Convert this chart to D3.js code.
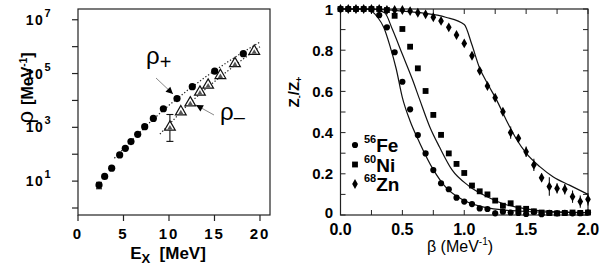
<!DOCTYPE html>
<html>
<head>
<meta charset="utf-8">
<script src="https://cdn.jsdelivr.net/npm/d3@7"></script>
<style>
  body { margin: 0; background: #fff; }
  svg { display: block; font-family: "Liberation Sans", Arial, sans-serif; }
</style>
</head>
<body>
<div id="chart"></div>
<script>
// ---------- left panel data: level density vs excitation energy ----------
const rhoPlusE   = [2.31, 2.93, 3.7, 4.58, 5.2, 5.82, 6.56, 7.33, 8.28, 9.38, 10.88, 12.56, 15.02, 18.17];
const rhoPlusVal = [7.1, 14.9, 30.2, 94, 166, 295, 550, 1060, 2140, 4900, 11700, 32400, 123000, 550000];
const rhoPlusLo  = [5.2, null, null, null, null, null, null, null, null, null, null, null, null, null];
const rhoPlusHi  = [9.0, null, null, null, null, null, null, null, null, null, null, null, null, null];

const rhoMinusE   = [10.1, 11.3, 12.34, 13.4, 14.3, 15.65, 17.25, 19.37];
const rhoMinusVal = [1020, 3800, 8130, 20400, 37200, 85100, 234000, 676000];
const rhoMinusLo  = [300, null, null, null, null, null, null, null];
const rhoMinusHi  = [3000, null, null, null, null, null, null, null];

// dotted fit lines
const fitPlusE   = [4, 6, 8, 10, 12, 14, 16, 18, 20];
const fitPlusVal = [71, 355, 1660, 6610, 23400, 74100, 214000, 589000, 1480000];
const fitMinusE   = [9, 10, 12, 14, 16, 18, 20];
const fitMinusVal = [562, 1260, 6610, 26300, 95500, 316000, 1000000];

const leftXTicks = [0, 5, 10, 15, 20];
const leftYTicks = [1, 10, 100, 1e3, 1e4, 1e5, 1e6, 1e7];
const leftYLabels = [1, 3, 5, 7]; // exponents shown

// ---------- right panel data: Z-/Z+ vs beta ----------
const beta = [0, 0.0625, 0.125, 0.1875, 0.25, 0.3125, 0.375, 0.4375, 0.5, 0.5625, 0.625, 0.6875,
  0.75, 0.8125, 0.875, 0.9375, 1, 1.0625, 1.125, 1.1875, 1.25, 1.3125, 1.375, 1.4375, 1.5,
  1.5625, 1.625, 1.6875, 1.75, 1.8125, 1.875, 1.9375, 2];
const fe = [1, 1, 1, 1, 1, 0.97, 0.911, 0.79, 0.647, 0.513, 0.388, 0.299, 0.218, 0.154, 0.125,
  0.084, 0.065, 0.053, 0.032, 0.029, 0.008, 0.016, 0.012, 0.01, 0.005, 0.015, 0.004, 0.01,
  0.008, 0.01, 0.008, 0.009, 0.012];
const ni = [1, 1, 1, 1, 1, 1, 0.995, 0.967, 0.903, 0.817, 0.712, 0.602, 0.486, 0.389, 0.299,
  0.248, 0.204, 0.143, 0.115, 0.1, 0.07, 0.045, 0.057, 0.032, 0.03, 0.018, 0.012, 0.01,
  0.008, 0.01, 0.012, 0.01, 0.012];
const zn = [1, 1, 1, 1, 1, 1, 0.995, 0.995, 0.995, 0.99, 0.982, 0.974, 0.96, 0.942, 0.911,
  0.874, 0.833, 0.773, 0.7, 0.626, 0.569, 0.501, 0.4, 0.372, 0.307, 0.243, 0.181, 0.138,
  0.129, 0.125, 0.089, 0.065, 0.076];
const znErr = [0, 0, 0, 0, 0, 0, 0, 0, 0, 0, 0, 0, 0, 0, 0, 0, 0, 0, 0, 0, 0, 0.01, 0.03,
  0.02, 0.025, 0.03, 0.02, 0.045, 0.025, 0.025, 0.03, 0.03, 0.03];

// solid model curves
const feCurveB = [0, 0.2, 0.25, 0.3, 0.35, 0.4, 0.45, 0.5, 0.56, 0.64, 0.75, 0.85, 1.0, 1.2, 1.5, 2.0];
const feCurveV = [1, 1, 0.99, 0.96, 0.91, 0.82, 0.71, 0.57, 0.46, 0.35, 0.22, 0.135, 0.07, 0.033, 0.017, 0.011];
const niCurveB = [0, 0.25, 0.3, 0.36, 0.42, 0.5, 0.58, 0.64, 0.72, 0.8, 0.9, 1.04, 1.18, 1.34, 1.5, 1.7, 2.0];
const niCurveV = [1, 1, 0.995, 0.98, 0.9, 0.78, 0.66, 0.56, 0.43, 0.33, 0.22, 0.14, 0.09, 0.05, 0.03, 0.017, 0.012];
const znCurveB = [0, 0.3, 0.5, 0.67, 0.85, 1.0, 1.06, 1.12, 1.2, 1.26, 1.34, 1.42, 1.5, 1.61, 1.72, 1.85, 2.0];
const znCurveV = [1, 0.998, 0.99, 0.98, 0.96, 0.925, 0.83, 0.72, 0.625, 0.56, 0.46, 0.37, 0.3, 0.235, 0.185, 0.145, 0.1];

const rightXTicks = [0, 0.5, 1, 1.5, 2];
const rightYTicks = [0, 0.2, 0.4, 0.6, 0.8, 1];

const W = 599, H = 277;
const svg = d3.select("#chart").append("svg").attr("width", W).attr("height", H);
svg.append("rect").attr("width", W).attr("height", H).attr("fill", "#fff");

//==============================
// LEFT PANEL
//==============================
const lx = d3.scaleLinear().domain([0, 21.1]).range([78, 270]);
const ly = d3.scaleLog().domain([Math.pow(10, -0.26), Math.pow(10, 7.4)]).range([215, 9]);
const left = svg.append("g");

left.append("rect")
  .attr("x", lx.range()[0]).attr("y", ly.range()[1])
  .attr("width", lx.range()[1] - lx.range()[0])
  .attr("height", ly.range()[0] - ly.range()[1])
  .attr("fill", "none").attr("stroke", "#222").attr("stroke-width", 1.2);

// outward ticks
leftYTicks.forEach(t => {
  left.append("line").attr("x1", lx(0) - 6).attr("x2", lx(0))
    .attr("y1", ly(t)).attr("y2", ly(t)).attr("stroke", "#222").attr("stroke-width", 1.2);
});
leftXTicks.forEach(t => {
  left.append("line").attr("x1", lx(t)).attr("x2", lx(t))
    .attr("y1", 215).attr("y2", 221).attr("stroke", "#222").attr("stroke-width", 1.2);
  left.append("text").attr("x", lx(t)).attr("y", 239)
    .attr("text-anchor", "middle").attr("font-weight", "bold").attr("font-size", 15)
    .attr("letter-spacing", 2).text(t);
});
leftYLabels.forEach(e => {
  const t = left.append("text").attr("x", 52).attr("y", ly(Math.pow(10, e)) + 5)
    .attr("text-anchor", "end").attr("font-weight", "bold").attr("font-size", 14)
    .attr("letter-spacing", 1.5);
  t.append("tspan").text("10");
  t.append("tspan").attr("dy", -8).attr("font-size", 11).text(e);
});

// dotted fits
const lline = d3.line().x(d => lx(d[0])).y(d => ly(d[1]));
left.append("path").datum(d3.zip(fitPlusE, fitPlusVal)).attr("d", lline)
  .attr("fill", "none").attr("stroke", "#222").attr("stroke-width", 1.2).attr("stroke-dasharray", "1.3,2");
left.append("path").datum(d3.zip(fitMinusE, fitMinusVal)).attr("d", lline)
  .attr("fill", "none").attr("stroke", "#222").attr("stroke-width", 1.2).attr("stroke-dasharray", "1.3,2");

// error bars
function errBar(g, x, lo, hi, cap) {
  g.append("line").attr("x1", x).attr("x2", x).attr("y1", lo).attr("y2", hi)
    .attr("stroke", "#111").attr("stroke-width", 1.1);
  g.append("line").attr("x1", x - cap).attr("x2", x + cap).attr("y1", lo).attr("y2", lo)
    .attr("stroke", "#111").attr("stroke-width", 1.1);
  g.append("line").attr("x1", x - cap).attr("x2", x + cap).attr("y1", hi).attr("y2", hi)
    .attr("stroke", "#111").attr("stroke-width", 1.1);
}
rhoPlusE.forEach((e, i) => {
  if (rhoPlusLo[i] != null) errBar(left, lx(e), ly(rhoPlusLo[i]), ly(rhoPlusHi[i]), 3);
});
rhoMinusE.forEach((e, i) => {
  if (rhoMinusLo[i] != null) errBar(left, lx(e), ly(rhoMinusLo[i]), ly(rhoMinusHi[i]), 3.5);
});

// rho+ filled circles
left.selectAll("circle.plus").data(d3.zip(rhoPlusE, rhoPlusVal)).join("circle")
  .attr("cx", d => lx(d[0])).attr("cy", d => ly(d[1])).attr("r", 3.6).attr("fill", "#000");

// rho- open triangles
const tri = d3.symbol().type(d3.symbolTriangle).size(50);
const triG = left.selectAll("g.minus").data(d3.zip(rhoMinusE, rhoMinusVal)).join("g")
  .attr("transform", d => `translate(${lx(d[0])},${ly(d[1])})`);
triG.append("path").attr("d", tri).attr("fill", "#fff").attr("stroke", "#111").attr("stroke-width", 1.2);
triG.append("path").attr("d", d3.symbol().type(d3.symbolTriangle).size(12)).attr("transform", "translate(0,1)")
  .attr("fill", "#555");

// annotations
function arrow(g, x1, y1, x2, y2) {
  g.append("line").attr("x1", x1).attr("y1", y1).attr("x2", x2).attr("y2", y2)
    .attr("stroke", "#888").attr("stroke-width", 1);
  const a = Math.atan2(y2 - y1, x2 - x1), L = 7, w = 3.5;
  const bx = x2 - L * Math.cos(a), by = y2 - L * Math.sin(a);
  g.append("path").attr("d", `M${x2},${y2}L${bx - w * Math.sin(a)},${by + w * Math.cos(a)}L${bx + w * Math.sin(a)},${by - w * Math.cos(a)}Z`)
    .attr("fill", "#000");
}
const ap = left.append("text").attr("x", 146).attr("y", 64).attr("font-size", 24);
ap.append("tspan").text("ρ");
ap.append("tspan").attr("dy", 5).attr("font-size", 20).text("+");
arrow(left, 156, 78, 173, 94);
const am = left.append("text").attr("x", 220).attr("y", 120).attr("font-size", 24);
am.append("tspan").text("ρ");
am.append("tspan").attr("dy", 4).attr("font-size", 20).text("–");
arrow(left, 214, 115, 196, 105);

// axis titles
const lyt = left.append("text").attr("transform", "translate(33,88) rotate(-90)")
  .attr("text-anchor", "middle").attr("font-size", 16).attr("font-weight", "bold");
lyt.append("tspan").attr("font-size", 22).attr("font-weight", "normal").text("ρ ");
lyt.append("tspan").text("[MeV");
lyt.append("tspan").attr("dy", -6).attr("font-size", 10).text("-1");
lyt.append("tspan").attr("dy", 6).text("]");

const lxt = left.append("text").attr("x", 168).attr("y", 259)
  .attr("text-anchor", "middle").attr("font-size", 17).attr("font-weight", "bold");
lxt.append("tspan").text("E");
lxt.append("tspan").attr("dy", 4).attr("font-size", 13).text("X");
lxt.append("tspan").attr("dy", -4).text("  [MeV]").attr("xml:space", "preserve");

//==============================
// RIGHT PANEL
//==============================
const rx = d3.scaleLinear().domain([0, 2]).range([340.5, 588]);
const ry = d3.scaleLinear().domain([0, 1]).range([215, 9]);
const right = svg.append("g");

right.append("rect")
  .attr("x", rx(0)).attr("y", ry(1)).attr("width", rx(2) - rx(0)).attr("height", ry(0) - ry(1))
  .attr("fill", "none").attr("stroke", "#222").attr("stroke-width", 1.2);

// inward ticks on all four sides
d3.range(0, 2.001, 0.25).forEach(t => {
  right.append("line").attr("x1", rx(t)).attr("x2", rx(t)).attr("y1", ry(0)).attr("y2", ry(0) - 5)
    .attr("stroke", "#222");
  right.append("line").attr("x1", rx(t)).attr("x2", rx(t)).attr("y1", ry(1)).attr("y2", ry(1) + 5)
    .attr("stroke", "#222");
});
d3.range(0, 1.001, 0.1).forEach(t => {
  right.append("line").attr("x1", rx(0)).attr("x2", rx(0) + 5).attr("y1", ry(t)).attr("y2", ry(t))
    .attr("stroke", "#222");
  right.append("line").attr("x1", rx(2)).attr("x2", rx(2) - 5).attr("y1", ry(t)).attr("y2", ry(t))
    .attr("stroke", "#222");
});
rightXTicks.forEach(t => {
  right.append("text").attr("x", rx(t)).attr("y", 235).attr("text-anchor", "middle")
    .attr("font-size", 16).attr("font-weight", "bold").text(d3.format(".1f")(t));
});
rightYTicks.forEach(t => {
  right.append("text").attr("x", 333).attr("y", t === 0 ? ry(t) + 3 : ry(t) + 5.5).attr("text-anchor", "end")
    .attr("font-size", 15).attr("font-weight", "bold").text(t === 0 || t === 1 ? t : d3.format(".1f")(t));
});

// model curves
const rline = d3.line().x(d => rx(d[0])).y(d => ry(d[1])).curve(d3.curveMonotoneX);
[[feCurveB, feCurveV], [niCurveB, niCurveV], [znCurveB, znCurveV]].forEach(c => {
  right.append("path").datum(d3.zip(c[0], c[1])).attr("d", rline)
    .attr("fill", "none").attr("stroke", "#111").attr("stroke-width", 1.2);
});

// Zn error bars
beta.forEach((b, i) => {
  if (znErr[i] > 0) {
    right.append("line").attr("x1", rx(b)).attr("x2", rx(b))
      .attr("y1", ry(zn[i] - znErr[i])).attr("y2", ry(zn[i] + znErr[i]))
      .attr("stroke", "#111").attr("stroke-width", 1.1);
  }
});

const symCircle = d3.symbol().type(d3.symbolCircle).size(30);
const symSquare = d3.symbol().type(d3.symbolSquare).size(34);
const symDiamond = d3.symbol().type(d3.symbolDiamond).size(28);

function drawSeries(vals, sym) {
  right.append("g").selectAll("path").data(d3.zip(beta, vals)).join("path")
    .attr("d", sym).attr("transform", d => `translate(${rx(d[0])},${ry(d[1])})`).attr("fill", "#000");
}
drawSeries(zn, symDiamond);
drawSeries(ni, symSquare);
drawSeries(fe, symCircle);

// legend
const legendItems = [["56", "Fe", symCircle], ["60", "Ni", symSquare], ["68", "Zn", symDiamond]];
legendItems.forEach((d, i) => {
  const y = 145 + i * 19.5;
  right.append("path").attr("d", d[2]).attr("transform", `translate(355,${y})`).attr("fill", "#000");
  const t = right.append("text").attr("x", 364).attr("y", y + 7).attr("font-weight", "bold").attr("font-size", 19);
  t.append("tspan").attr("dy", -9).attr("font-size", 11).text(d[0]);
  t.append("tspan").attr("dy", 9).text(d[1]);
});

// axis titles
const rxt = right.append("text").attr("x", 460).attr("y", 252).attr("text-anchor", "middle").attr("font-size", 16);
rxt.append("tspan").text("β (MeV");
rxt.append("tspan").attr("dy", -7).attr("font-size", 10).text("-1");
rxt.append("tspan").attr("dy", 7).text(")");

const ryt = right.append("text").attr("transform", "translate(299,92) rotate(-90)")
  .attr("text-anchor", "middle").attr("font-size", 15).attr("font-weight", "bold");
ryt.append("tspan").text("Z");
ryt.append("tspan").attr("dy", 3).attr("font-size", 9).text("-");
ryt.append("tspan").attr("dy", -3).text("/Z");
ryt.append("tspan").attr("dy", 3).attr("font-size", 9).text("+");
</script>
</body>
</html>
